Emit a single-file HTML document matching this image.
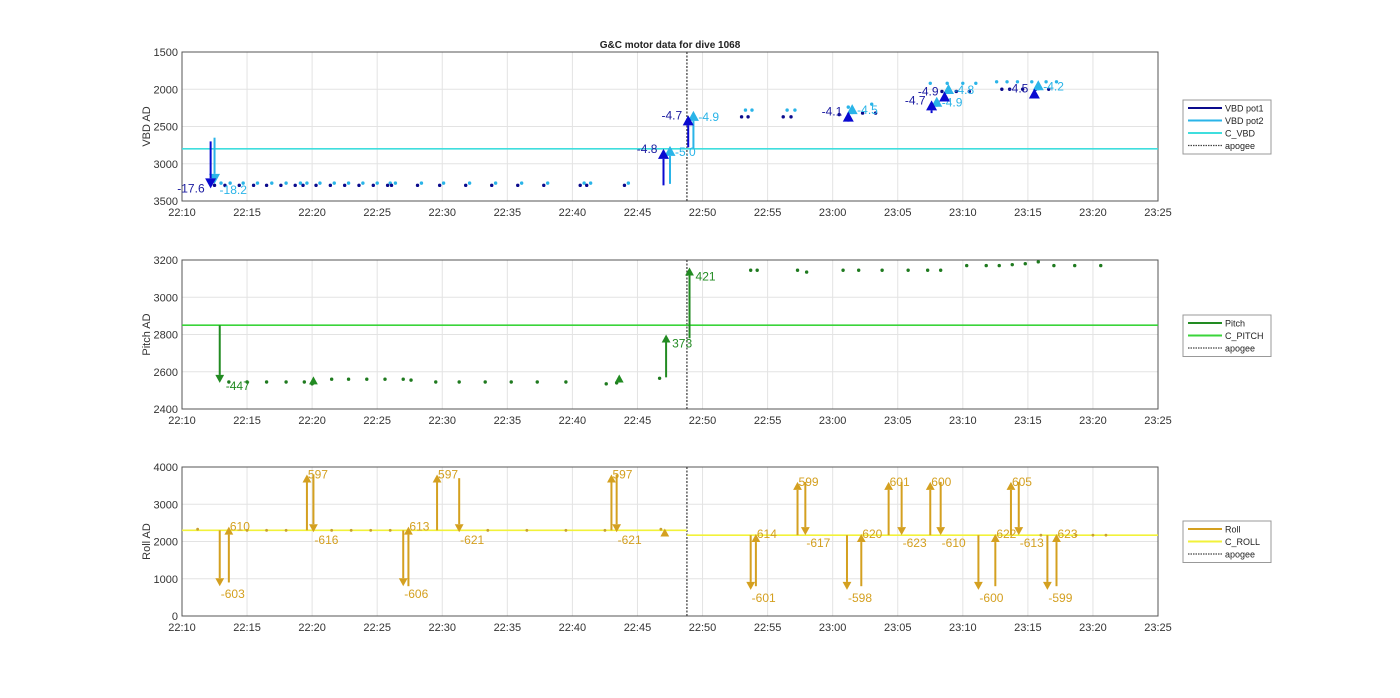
<!DOCTYPE html>
<html><head><meta charset="utf-8"><style>
body{margin:0;background:#fff;}
svg{font-family:"Liberation Sans",Arial,sans-serif;}
</style></head><body>
<svg id="c" width="1400" height="693"></svg>
<script>
// ---- data (minutes after 22:10) ----
const xTickLabels=["22:10","22:15","22:20","22:25","22:30","22:35","22:40","22:45","22:50","22:55","23:00","23:05","23:10","23:15","23:20","23:25"];
const apogeeMin=38.8;
// VBD
const vbdTicks=[1500,2000,2500,3000,3500];
const vbd1DotT=[2.5,3.3,4.4,5.5,6.5,7.6,8.7,9.3,10.3,11.4,12.5,13.6,14.7,15.8,16.1,18.1,19.8,21.8,23.8,25.8,27.8,30.6,31.1,34.0,43.0,43.5,46.2,46.8,50.5,52.3,53.3,58.4,59.5,60.5,63.0,63.6,64.6,65.6,66.6];
const vbd1DotV=[3290,3290,3290,3290,3290,3290,3290,3290,3290,3290,3290,3290,3290,3290,3290,3290,3290,3290,3290,3290,3290,3290,3290,3290,2370,2370,2370,2370,2340,2320,2320,2030,2030,2030,2000,2000,2000,2000,2000];
const vbd2DotT=[3.0,3.7,4.7,5.8,6.9,8.0,9.1,9.6,10.6,11.7,12.8,13.9,15.0,16.0,16.4,18.4,20.1,22.1,24.1,26.1,28.1,30.9,31.4,34.3,43.3,43.8,46.5,47.1,51.2,53.0,57.5,58.8,60.0,61.0,62.6,63.4,64.2,65.3,66.4,67.2];
const vbd2DotV=[3260,3260,3260,3260,3260,3260,3260,3260,3260,3260,3260,3260,3260,3260,3260,3260,3260,3260,3260,3260,3260,3260,3260,3260,2280,2280,2280,2280,2240,2200,1920,1920,1920,1920,1900,1900,1900,1900,1900,1900];
const vbd1ArrT=[2.2,37.0,38.9,51.2,57.6,58.6,65.5];
const vbd1ArrFrom=[2700,3290,2780,2380,2320,2130,2050];
const vbd1ArrTo=[3330,2800,2350,2300,2150,2030,1990];
const vbd1Lbl=["-17.6","-4.8","-4.7","-4.1","-4.7","-4.9","-4.5"];
const vbd2ArrT=[2.5,37.5,39.3,51.5,58.0,58.9,65.8];
const vbd2ArrFrom=[2650,3270,2790,2280,2200,2050,1950];
const vbd2ArrTo=[3270,2760,2290,2200,2100,1930,1880];
const vbd2Lbl=["-18.2","-5.0","-4.9","-4.5","-4.9","-4.8","-4.2"];
const cVbd=2800;
// Pitch
const pitchTicks=[2400,2600,2800,3000,3200];
const pitchDotT=[3.6,5.0,6.5,8.0,9.4,10.0,11.5,12.8,14.2,15.6,17.0,17.6,19.5,21.3,23.3,25.3,27.3,29.5,32.6,33.4,36.7,43.7,44.2,47.3,48.0,50.8,52.0,53.8,55.8,57.3,58.3,60.3,61.8,62.8,63.8,64.8,65.8,67.0,68.6,70.6];
const pitchDotV=[2545,2545,2545,2545,2545,2535,2560,2560,2560,2560,2560,2555,2545,2545,2545,2545,2545,2545,2535,2540,2565,3145,3145,3145,3135,3145,3145,3145,3145,3145,3145,3170,3170,3170,3175,3180,3190,3170,3170,3170];
const pitchArrT=[2.9,10.1,33.6,37.2,39.0];
const pitchArrFrom=[2850,2545,2545,2570,2780];
const pitchArrTo=[2540,2575,2585,2800,3160];
const pitchLbl=["-447","","","373","421"];
const cPitch=2850;
// Roll
const rollTicks=[0,1000,2000,3000,4000];
const rollArrT=[2.9,3.6,9.6,10.1,17.0,17.4,19.6,21.3,33.0,33.4,37.1,43.7,44.1,47.3,47.9,51.1,52.2,54.3,55.3,57.5,58.3,61.2,62.5,63.7,64.3,66.5,67.2];
const rollArrFrom=[2300,900,2300,3800,2300,800,2300,3700,2300,3800,2150,2170,800,2170,3600,2170,800,2170,3600,2170,3600,2170,800,2170,3600,2170,800];
const rollArrTo=[800,2400,3800,2250,800,2400,3800,2250,3800,2250,2350,700,2200,3600,2170,700,2200,3600,2170,3600,2170,700,2200,3600,2170,700,2200];
const rollLbl=["-603","610","597","-616","-606","613","597","-621","597","-621","","-601","614","599","-617","-598","620","601","-623","600","-610","-600","622","605","-613","-599","623"];
const rollDotT=[1.2,5.0,6.5,8.0,11.5,13.0,14.5,16.0,23.5,26.5,29.5,32.5,36.8,66.0,68.7,70.0,71.0];
const rollDotV=[2330,2300,2300,2300,2300,2300,2300,2300,2300,2300,2300,2300,2330,2170,2170,2170,2170];
const cRollPre=2300, cRollPost=2170;

// ---- drawing ----
const S=document.getElementById('c'),NS="http://www.w3.org/2000/svg";
function el(t,a,p){const e=document.createElementNS(NS,t);for(const k in a)e.setAttribute(k,a[k]);(p||S).appendChild(e);return e;}
const X0=182,X1=1158;
function xs(m){return X0+m*(X1-X0)/75;}
function makeY(top,bot,vTop,vBot){return v=>top+(v-vTop)*(bot-top)/(vBot-vTop);}

function panel(name,top,bot,ticks,ys,ylabel){
  const g=el('g',{});
  
  
  el('rect',{x:X0,y:top,width:X1-X0,height:bot-top,fill:'#fff',stroke:'none'},g);
  xTickLabels.forEach((l,i)=>{const x=xs(i*5);
    el('line',{x1:x,x2:x,y1:top,y2:bot,stroke:'#e3e3e3'},g);
    const t=el('text',{x:x,y:bot+15,'font-size':11,'text-anchor':'middle',fill:'#333'},g);t.textContent=l;
    });
  ticks.forEach(v=>{const y=ys(v);
    el('line',{x1:X0,x2:X1,y1:y,y2:y,stroke:'#e3e3e3'},g);
    const t=el('text',{x:X0-4,y:y+4,'font-size':11,'text-anchor':'end',fill:'#333'},g);t.textContent=v;
    });
  el('rect',{x:X0,y:top,width:X1-X0,height:bot-top,fill:'none',stroke:'#555'},g);
  const t=el('text',{x:0,y:0,'font-size':11,'text-anchor':'middle',fill:'#333',transform:`translate(150,${(top+bot)/2}) rotate(-90)`},g);t.textContent=ylabel;
  
  const ax=xs(apogeeMin);
  const a=el('line',{x1:ax,x2:ax,y1:top,y2:bot,stroke:'#444','stroke-dasharray':'2,1.5','stroke-width':1.3});
  
}
function hline(y,x1,x2,col,name){const l=el('line',{x1:x1,x2:x2,y1:y,y2:y,stroke:col,'stroke-width':1.6});
  }
function dots(T,V,ys,col,name,r){T.forEach((t,i)=>{const c=el('circle',{cx:xs(t),cy:ys(V[i]),r:r||1.7,fill:col});
  });}
// offUp/offDown: label y offset relative to arrow head for up/down arrows
function arrows(T,F,To,L,ys,col,name,head,lblDx,lblCol,offUp,offDown){
  T.forEach((t,i)=>{const x=xs(t),y1=ys(F[i]),y2=ys(To[i]);const dir=y2<y1?-1:1;
    const g=el('g',{});
    
    el('line',{x1:x,x2:x,y1:y1,y2:y2-dir*head,stroke:col,'stroke-width':2},g);
    el('polygon',{points:`${x},${y2} ${x-head*0.55},${y2-dir*head} ${x+head*0.55},${y2-dir*head}`,fill:col},g);
    if(L[i]){const tx=el('text',{x:x+lblDx,y:y2+(dir>0?offDown:offUp),'font-size':12,fill:lblCol||col,'text-anchor':lblDx<0?'end':'start'},g);tx.textContent=L[i];}
  });}
function legend(top,items,name){
  const h=items.length*12.5+4;const g=el('g',{});
  
  el('rect',{x:1183,y:top,width:88,height:h,fill:'#fff',stroke:'#999'},g);
  items.forEach((it,i)=>{const y=top+8+i*12.5;
    el('line',{x1:1188,x2:1222,y1:y,y2:y,stroke:it[1],'stroke-width':it[2]?1.2:2,'stroke-dasharray':it[2]?'1.5,1':'none'},g);
    const t=el('text',{x:1225,y:y+3.5,'font-size':9,fill:'#222'},g);t.textContent=it[0];});
}
// title
const tt=el('text',{x:670,y:48,'font-size':10,'font-weight':'bold','text-anchor':'middle',fill:'#222'});tt.textContent="G&C motor data for dive 1068";


// VBD
const yV=makeY(52,201,1500,3500);
panel('vbd',52,201,vbdTicks,yV,'VBD AD');
hline(yV(cVbd),X0,X1,'#3fdede','c-vbd-line');
dots(vbd2DotT,vbd2DotV,yV,'#2ab4e8','vbd-pot2-point');
dots(vbd1DotT,vbd1DotV,yV,'#0a0a8c','vbd-pot1-point');
arrows(vbd2ArrT,vbd2ArrFrom,vbd2ArrTo,vbd2Lbl,yV,'#2ab4e8','vbd-pot2-arrow',10,5,null,10,10);
arrows(vbd1ArrT,vbd1ArrFrom,vbd1ArrTo,vbd1Lbl,yV,'#0a0ad0','vbd-pot1-arrow',10,-6,'#1a1aa0',4,4);
legend(100,[['VBD pot1','#0a0a8c'],['VBD pot2','#2ab4e8'],['C_VBD','#3fdede'],['apogee','#444',1]],'vbd-legend');

// Pitch
const yP=makeY(260,409,3200,2400);
panel('pitch',260,409,pitchTicks,yP,'Pitch AD');
hline(yP(cPitch),X0,X1,'#3ad43a','c-pitch-line');
dots(pitchDotT,pitchDotV,yP,'#1f7a1f','pitch-point');
arrows(pitchArrT,pitchArrFrom,pitchArrTo,pitchLbl,yP,'#228b22','pitch-arrow',8,6,null,13,7);
legend(315,[['Pitch','#228b22'],['C_PITCH','#3ad43a'],['apogee','#444',1]],'pitch-legend');

// Roll
const yR=makeY(467,616,4000,0);
panel('roll',467,616,rollTicks,yR,'Roll AD');
hline(yR(cRollPre),X0,xs(apogeeMin),'#f2f23a','c-roll-line-pre');
hline(yR(cRollPost),xs(apogeeMin),X1,'#f2f23a','c-roll-line-post');
dots(rollDotT,rollDotV,yR,'#c8a030','roll-point',1.4);
arrows(rollArrT,rollArrFrom,rollArrTo,rollLbl,yR,'#d4a020','roll-arrow',8,1,'#d4a020',4,12);
legend(521,[['Roll','#d4a020'],['C_ROLL','#f2f23a'],['apogee','#444',1]],'roll-legend');
</script>
</body></html>
